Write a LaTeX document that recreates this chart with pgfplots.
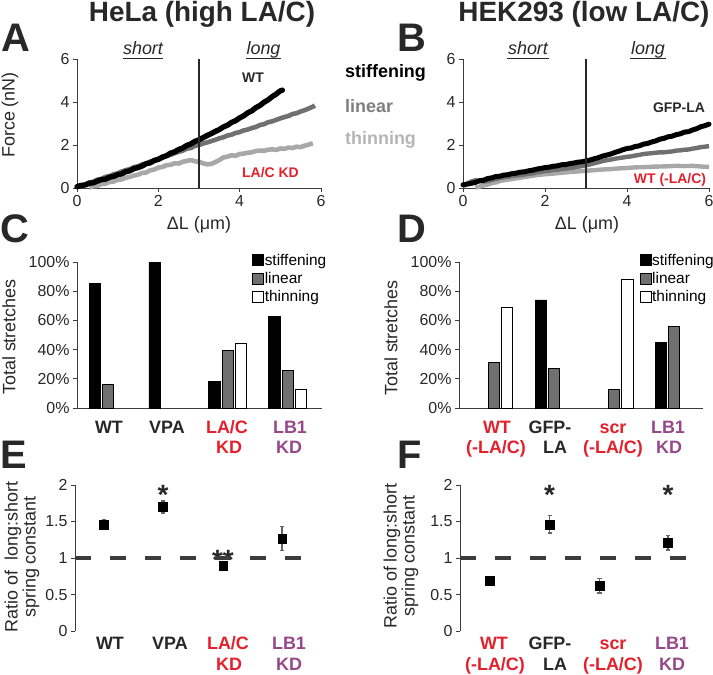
\documentclass[border=0pt]{standalone}
\usepackage{pgfplots}
\pgfplotsset{compat=1.18}
\usepackage{fontspec}
\setmainfont{Liberation Sans}
\definecolor{labred}{RGB}{228,32,44}
\definecolor{labpurple}{RGB}{150,72,138}
\definecolor{lingray}{RGB}{112,112,112}
\definecolor{thingray}{RGB}{168,168,168}
\definecolor{axgray}{RGB}{60,60,60}
\definecolor{txtdark}{RGB}{40,40,40}
\newcommand{\fs}[1]{\fontsize{#1}{#1}\selectfont}
\pgfplotsset{
  base/.style={scale only axis, anchor=north west, axis lines*=left,
    axis line style={axgray, line width=1pt, -}, tick style={axgray, line width=1pt},
    tick align=outside, major tick length=4bp,
    /pgf/number format/assume math mode=true,
    tick label style={font=\fontsize{16}{16}\selectfont, text=txtdark},
    clip=false},
  sqleg/.style={legend image code/.code={\draw[##1,line width=0.9bp] (0bp,-5.5bp) rectangle (11bp,5.5bp);}},
  barleg/.style={
    legend style={draw=none, fill=none, inner sep=0pt, row sep=4.5bp,
      nodes={inner sep=0.5bp}},
    legend cell align=left},
  mybar/.style={ybar, bar width=11.3bp, bar shift=#1, draw=black, line width=0.9bp, forget plot},
}
\begin{document}
\begin{tikzpicture}[x=1bp,y=1bp]
\useasboundingbox (0,0) rectangle (713,-675);
% titles
\node[anchor=base, font=\fs{28}\bfseries, text=txtdark] at (202,-21.5) {HeLa (high LA/C)};
\node[anchor=base, font=\fs{28}\bfseries, text=txtdark] at (584,-21.5) {HEK293 (low LA/C)};
% panel letters
\node[anchor=base west, inner sep=0, font=\fs{40}\bfseries, text=txtdark] at (1,-52) {A};
\node[anchor=base west, inner sep=0, font=\fs{40}\bfseries, text=txtdark] at (397,-52) {B};
\node[anchor=base west, inner sep=0, font=\fs{40}\bfseries, text=txtdark] at (0,-242) {C};
\node[anchor=base west, inner sep=0, font=\fs{40}\bfseries, text=txtdark] at (397,-242) {D};
\node[anchor=base west, inner sep=0, font=\fs{40}\bfseries, text=txtdark] at (0,-468) {E};
\node[anchor=base west, inner sep=0, font=\fs{40}\bfseries, text=txtdark] at (397,-468) {F};
% middle key
\node[anchor=west, inner sep=0, font=\fs{18}\bfseries, text=black] at (345,-73) {stiffening};
\node[anchor=west, inner sep=0, font=\fs{18}\bfseries, text=lingray!90] at (345,-106) {linear};
\node[anchor=west, inner sep=0, font=\fs{18}\bfseries, text=thingray!85] at (345,-140) {thinning};
% short / long
\foreach \xx/\tt in {143/short, 263.5/long, 528/short, 648/long}{
  \node[anchor=base, inner sep=0, font=\fs{18}\itshape, text=txtdark] at (\xx,-55) {\tt};
}
\draw[txtdark, line width=0.9bp] (123,-58.5) -- (163,-58.5);
\draw[txtdark, line width=0.9bp] (246,-58.5) -- (281,-58.5);
\draw[txtdark, line width=0.9bp] (507,-58.5) -- (549,-58.5);
\draw[txtdark, line width=0.9bp] (630,-58.5) -- (666,-58.5);
% axis labels
\node[rotate=90, font=\fs{18}, text=txtdark] at (10,-115) {Force (nN)};
\node[anchor=base, font=\fs{18}, text=txtdark] at (199,-229) {ΔL (μm)};
\node[anchor=base, font=\fs{18}, text=txtdark] at (587,-229) {ΔL (μm)};
\node[rotate=90, font=\fs{18}, text=txtdark] at (9,-337) {Total stretches};
\node[rotate=90, font=\fs{18}, text=txtdark] at (391,-338) {Total stretches};
\node[rotate=90, align=center, font=\fs{18}, text=txtdark] at (22,-557) {Ratio of\ \ long:short\\spring constant};
\node[rotate=90, align=center, font=\fs{18}, text=txtdark] at (401,-556) {Ratio of long:short\\spring constant};
% annotations A, B
\node[font=\fs{14}\bfseries, text=txtdark] at (253,-78) {WT};
\node[font=\fs{14}\bfseries, text=labred] at (270.5,-173) {LA/C KD};
\node[font=\fs{14}\bfseries, text=txtdark] at (679,-108) {GFP-LA};
\node[font=\fs{14}\bfseries, text=labred] at (670,-180) {WT (-LA/C)};
% category labels
\newcommand{\cl}[5]{\node[anchor=base, inner sep=0, font=\fs{18}\bfseries, text=#5] at (#1,#2) {#3};}
\cl{109}{-433}{WT}{}{txtdark}
\cl{167}{-433}{VPA}{}{txtdark}
\cl{227}{-433}{LA/C}{}{labred}
\cl{229}{-453}{KD}{}{labred}
\cl{290}{-433}{LB1}{}{labpurple}
\cl{289}{-453}{KD}{}{labpurple}
\cl{497}{-433}{WT}{}{labred}
\cl{496}{-453}{(-LA/C)}{}{labred}
\cl{550}{-433}{GFP-}{}{txtdark}
\cl{555}{-453}{LA}{}{txtdark}
\cl{613}{-433}{scr}{}{labred}
\cl{613}{-453}{(-LA/C)}{}{labred}
\cl{668}{-433}{LB1}{}{labpurple}
\cl{669}{-453}{KD}{}{labpurple}
\cl{110}{-649}{WT}{}{txtdark}
\cl{170}{-649}{VPA}{}{txtdark}
\cl{228}{-649}{LA/C}{}{labred}
\cl{229}{-670}{KD}{}{labred}
\cl{289}{-649}{LB1}{}{labpurple}
\cl{289}{-670}{KD}{}{labpurple}
\cl{494}{-649}{WT}{}{labred}
\cl{495}{-670}{(-LA/C)}{}{labred}
\cl{550}{-649}{GFP-}{}{txtdark}
\cl{555}{-670}{LA}{}{txtdark}
\cl{613}{-649}{scr}{}{labred}
\cl{613}{-670}{(-LA/C)}{}{labred}
\cl{672}{-649}{LB1}{}{labpurple}
\cl{672}{-670}{KD}{}{labpurple}
% stars
\node[anchor=base, inner sep=0, font=\fs{28}\bfseries, text=txtdark] at (163,-504) {*};
\node[anchor=base, inner sep=0, font=\fs{28}\bfseries, text=txtdark] at (223,-569) {**};
\node[anchor=base, inner sep=0, font=\fs{28}\bfseries, text=txtdark] at (549.5,-504) {*};
\node[anchor=base, inner sep=0, font=\fs{28}\bfseries, text=txtdark] at (668,-504) {*};

% ---------------- Panel A
\begin{axis}[base, at={(77bp,-59bp)}, width=244bp, height=129bp,
  xmin=0, xmax=6, ymin=0, ymax=6, xtick={0,2,4,6}, ytick={0,2,4,6}]
\addplot[thingray, line width=4.6bp, line join=round] coordinates {
(0.3,0.02) (0.4,0.08) (0.5,0.10) (0.6,0.18) (0.7,0.20) (0.8,0.28) (0.9,0.30) (1.0,0.38)
(1.1,0.40) (1.2,0.48) (1.3,0.52) (1.4,0.58) (1.5,0.62) (1.6,0.70) (1.7,0.72) (1.8,0.82)
(1.9,0.86) (2.0,0.95) (2.1,0.98) (2.2,1.06) (2.3,1.08) (2.4,1.15) (2.5,1.14) (2.6,1.22)
(2.7,1.26) (2.8,1.30) (2.9,1.24) (3.0,1.22) (3.1,1.15) (3.2,1.10) (3.3,1.12) (3.4,1.20)
(3.5,1.30) (3.6,1.42) (3.7,1.46) (3.8,1.52) (3.9,1.50) (4.0,1.58) (4.1,1.60) (4.2,1.64)
(4.3,1.66) (4.4,1.72) (4.5,1.74) (4.6,1.73) (4.7,1.78) (4.8,1.80) (4.9,1.77) (5.0,1.84)
(5.1,1.82) (5.2,1.88) (5.3,1.86) (5.4,1.92) (5.5,1.90) (5.6,1.97) (5.7,2.02) (5.8,2.08)};
\addplot[lingray, line width=4.6bp, line join=round] coordinates {
(0,0.04) (0.1,0.11) (0.2,0.16) (0.3,0.26) (0.4,0.29) (0.5,0.39) (0.6,0.42) (0.7,0.52)
(0.8,0.55) (0.9,0.64) (1.0,0.68) (1.1,0.77) (1.2,0.83) (1.3,0.88) (1.4,0.97) (1.5,1.01)
(1.6,1.10) (1.7,1.14) (1.8,1.23) (1.9,1.28) (2.0,1.36) (2.1,1.40) (2.2,1.49) (2.3,1.54)
(2.4,1.62) (2.5,1.68) (2.6,1.74) (2.7,1.83) (2.8,1.86) (2.9,1.96) (3.0,2.00) (3.1,2.07)
(3.2,2.12) (3.3,2.18) (3.4,2.24) (3.5,2.31) (3.6,2.36) (3.7,2.44) (3.8,2.48) (3.9,2.56)
(4.0,2.60) (4.1,2.68) (4.2,2.72) (4.3,2.79) (4.4,2.84) (4.5,2.93) (4.6,2.97) (4.7,3.06)
(4.8,3.10) (4.9,3.17) (5.0,3.24) (5.1,3.30) (5.2,3.35) (5.3,3.44) (5.4,3.48) (5.5,3.56)
(5.6,3.62) (5.7,3.70) (5.8,3.78) (5.85,3.84)};
\addplot[black, line width=5.4bp, line join=round, line cap=round] coordinates {
(0,0.06) (0.1,0.12) (0.2,0.14) (0.3,0.22) (0.4,0.24) (0.5,0.32) (0.6,0.39) (0.7,0.41)
(0.8,0.50) (0.9,0.54) (1.0,0.62) (1.1,0.66) (1.2,0.76) (1.3,0.80) (1.4,0.90) (1.5,0.95)
(1.6,1.02) (1.7,1.13) (1.8,1.17) (1.9,1.28) (2.0,1.33) (2.1,1.44) (2.2,1.50) (2.3,1.62)
(2.4,1.68) (2.5,1.79) (2.6,1.86) (2.7,1.98) (2.8,2.05) (2.9,2.17) (3.0,2.24) (3.1,2.34)
(3.2,2.44) (3.3,2.53) (3.4,2.63) (3.5,2.72) (3.6,2.84) (3.7,2.92) (3.8,3.05) (3.9,3.13)
(4.0,3.26) (4.1,3.36) (4.2,3.50) (4.3,3.59) (4.4,3.74) (4.5,3.84) (4.6,3.99) (4.7,4.10)
(4.8,4.25) (4.9,4.37) (5.0,4.52) (5.05,4.55)};
\addplot[txtdark, line width=2.6bp] coordinates {(3,0) (3,6)};
\end{axis}

% ---------------- Panel B
\begin{axis}[base, at={(463bp,-59bp)}, width=246bp, height=129bp,
  xmin=0, xmax=6, ymin=0, ymax=6, xtick={0,2,4,6}, ytick={0,2,4,6}]
\addplot[thingray, line width=4.4bp, line join=round] coordinates {
(0.3,0.02) (0.4,0.06) (0.5,0.12) (0.6,0.16) (0.7,0.22) (0.8,0.26) (0.9,0.32) (1.0,0.36)
(1.2,0.42) (1.4,0.48) (1.6,0.54) (1.8,0.60) (2.0,0.64) (2.2,0.67) (2.4,0.71) (2.6,0.74)
(2.8,0.77) (3.0,0.80) (3.2,0.83) (3.4,0.86) (3.6,0.88) (3.8,0.91) (4.0,0.93) (4.2,0.96)
(4.4,0.97) (4.6,0.99) (4.8,1.00) (5.0,1.01) (5.2,1.03) (5.4,1.02) (5.6,1.03) (5.8,1.00) (6.0,0.98)};
\addplot[lingray, line width=4.4bp, line join=round] coordinates {
(0,0.10) (0.1,0.20) (0.2,0.30) (0.3,0.36) (0.4,0.32) (0.5,0.30) (0.6,0.32) (0.7,0.38)
(0.8,0.42) (0.9,0.46) (1.0,0.50) (1.1,0.52) (1.2,0.55) (1.3,0.58) (1.4,0.60) (1.5,0.63)
(1.6,0.66) (1.7,0.68) (1.8,0.73) (1.9,0.75) (2.0,0.79) (2.1,0.80) (2.2,0.84) (2.3,0.85)
(2.4,0.88) (2.5,0.90) (2.6,0.93) (2.7,0.95) (2.8,0.99) (2.9,1.02) (3.0,1.06) (3.1,1.10)
(3.2,1.15) (3.3,1.20) (3.4,1.25) (3.5,1.29) (3.6,1.32) (3.7,1.36) (3.8,1.39) (3.9,1.42)
(4.0,1.45) (4.1,1.47) (4.2,1.51) (4.3,1.54) (4.4,1.58) (4.5,1.60) (4.6,1.62) (4.7,1.64)
(4.8,1.66) (4.9,1.66) (5.0,1.68) (5.1,1.70) (5.2,1.74) (5.3,1.75) (5.4,1.78) (5.5,1.79)
(5.6,1.83) (5.7,1.86) (5.8,1.90) (5.9,1.92) (6.0,1.95)};
\addplot[black, line width=5bp, line join=round, line cap=round] coordinates {
(0,0.15) (0.1,0.18) (0.2,0.22) (0.3,0.26) (0.4,0.34) (0.5,0.36) (0.6,0.44) (0.7,0.47)
(0.8,0.53) (0.9,0.55) (1.0,0.60) (1.1,0.62) (1.2,0.67) (1.3,0.69) (1.4,0.74) (1.5,0.75)
(1.6,0.80) (1.7,0.83) (1.8,0.88) (1.9,0.91) (2.0,0.95) (2.1,0.97) (2.2,1.01) (2.3,1.03)
(2.4,1.08) (2.5,1.09) (2.6,1.13) (2.7,1.16) (2.8,1.20) (2.9,1.22) (3.0,1.26) (3.1,1.30)
(3.2,1.36) (3.3,1.41) (3.4,1.48) (3.5,1.53) (3.6,1.58) (3.7,1.65) (3.8,1.71) (3.9,1.78)
(4.0,1.84) (4.1,1.86) (4.2,1.93) (4.3,1.96) (4.4,2.04) (4.5,2.07) (4.6,2.14) (4.7,2.19)
(4.8,2.27) (4.9,2.31) (5.0,2.38) (5.1,2.41) (5.2,2.48) (5.3,2.52) (5.4,2.60) (5.5,2.62)
(5.6,2.70) (5.7,2.76) (5.8,2.85) (5.9,2.90) (6.0,2.97)};
\addplot[txtdark, line width=2.6bp] coordinates {(3,0) (3,6)};
\end{axis}

% ---------------- Panel C
\begin{axis}[base, at={(77bp,-262bp)}, width=245bp, height=146bp,
  xmin=-0.517, xmax=3.57, ymin=0, ymax=100, xtick=\empty,
  ytick={0,20,40,60,80,100}, yticklabel={\pgfmathprintnumber{\tick}\%},
  barleg, legend style={at={(0.715,1.06)}, anchor=north west}]
\addplot[mybar=-13.3bp, fill=black] coordinates {(0,85) (1,100) (2,18) (3,63)};
\addplot[mybar=0bp, fill=lingray] coordinates {(0,16) (2,39.5) (3,25.5)};
\addplot[mybar=13.3bp, fill=white] coordinates {(2,44) (3,12.5)};
\addlegendimage{sqleg, fill=black, draw=black}
\addlegendimage{sqleg, fill=lingray, draw=black}
\addlegendimage{sqleg, fill=white, draw=black}
\legend{{\fs{15.5}stiffening}, {\fs{15.5}linear}, {\fs{15.5}thinning}}
\end{axis}

% ---------------- Panel D
\begin{axis}[base, at={(459bp,-262bp)}, width=244bp, height=146bp,
  xmin=-0.583, xmax=3.483, ymin=0, ymax=100, xtick=\empty,
  ytick={0,20,40,60,80,100}, yticklabel={\pgfmathprintnumber{\tick}\%},
  barleg, legend style={at={(0.74,1.06)}, anchor=north west}]
\addplot[mybar=-13.3bp, fill=black] coordinates {(1,74) (3,45)};
\addplot[mybar=0bp, fill=lingray] coordinates {(0,31.5) (1,27) (2,13) (3,55.7)};
\addplot[mybar=13.3bp, fill=white] coordinates {(0,69) (2,88)};
\addlegendimage{sqleg, fill=black, draw=black}
\addlegendimage{sqleg, fill=lingray, draw=black}
\addlegendimage{sqleg, fill=white, draw=black}
\legend{{\fs{15.5}stiffening}, {\fs{15.5}linear}, {\fs{15.5}thinning}}
\end{axis}

% ---------------- Panel E
\begin{axis}[base, at={(75bp,-485bp)}, width=228bp, height=146bp,
  axis x line=none, axis y line*=left,
  xmin=-0.587, xmax=3.24, ymin=0, ymax=2, ytick={0,0.5,1,1.5,2}]
\addplot[axgray, line width=4.2bp, dash pattern=on 16bp off 19bp] coordinates {(-0.587,1) (3.24,1)};
\addplot[only marks, mark=square*, mark size=4.4bp, black,
  error bars/.cd, y dir=both, y explicit,
  error bar style={black!60, line width=1.5bp},
  error mark options={rotate=90, mark size=2.2bp, black!60, line width=1.5bp}]
  coordinates {(-0.1,1.46) +- (0,0.07) (0.89,1.70) +- (0,0.08) (1.9,0.89) +- (0,0.05) (2.89,1.27) +- (0,0.165)};
\end{axis}

% ---------------- Panel F
\begin{axis}[base, at={(460bp,-485bp)}, width=230bp, height=146bp,
  axis x line=none, axis y line*=left,
  xmin=-0.573, xmax=3.305, ymin=0, ymax=2, ytick={0,0.5,1,1.5,2}]
\addplot[axgray, line width=4.2bp, dash pattern=on 16bp off 19bp] coordinates {(-0.573,1) (3.305,1)};
\addplot[only marks, mark=square*, mark size=4.4bp, black,
  error bars/.cd, y dir=both, y explicit,
  error bar style={black!60, line width=1.5bp},
  error mark options={rotate=90, mark size=2.2bp, black!60, line width=1.5bp}]
  coordinates {(-0.07,0.69) +- (0,0.06) (0.94,1.46) +- (0,0.12) (1.78,0.62) +- (0,0.10) (2.93,1.21) +- (0,0.10)};
\end{axis}
\end{tikzpicture}
\end{document}
